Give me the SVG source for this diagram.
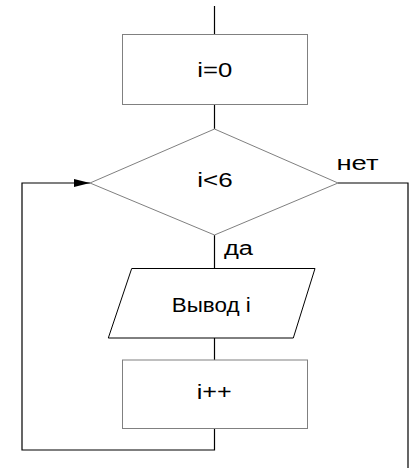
<svg xmlns="http://www.w3.org/2000/svg" width="411" height="468" viewBox="0 0 411 468">
<style>
.box{fill:#fff;stroke:#808080;stroke-width:1}
.io{fill:#fff;stroke:#000;stroke-width:1}
.ln{fill:none;stroke:#000;stroke-width:1.2}
.t{font-family:"Liberation Sans",Arial,sans-serif;font-size:20px;fill:#000}
</style>
<defs>
<marker id="arr" markerWidth="16" markerHeight="9" refX="16" refY="4.5" orient="auto" markerUnits="userSpaceOnUse">
<path d="M0,0.5 L16,4.5 L0,8.5 Z" fill="#000"/>
</marker>
</defs>
<rect width="411" height="468" fill="#fff"/>
<g id="connectors">
<line class="ln" x1="214.5" y1="6" x2="214.5" y2="34"/>
<line class="ln" x1="214.5" y1="104" x2="214.5" y2="129"/>
<line class="ln" x1="214.5" y1="235" x2="214.5" y2="268"/>
<line class="ln" x1="214.5" y1="338" x2="214.5" y2="360"/>
<polyline class="ln" points="214.5,428 214.5,450 22,450 22,183 90,183" marker-end="url(#arr)"/>
<polyline class="ln" points="338,183 408,183 408,468"/>
<text class="t" x="336.5" y="170" textLength="42" lengthAdjust="spacingAndGlyphs">нет</text>
<text class="t" x="224" y="254.5" textLength="29" lengthAdjust="spacingAndGlyphs">да</text>
</g>
<g id="init">
<rect class="box" x="122.5" y="34.5" width="185" height="70"/>
<text class="t" x="197.3" y="77" textLength="35" lengthAdjust="spacingAndGlyphs">i=0</text>
</g>
<g id="cond">
<polygon class="box" points="214.5,129 338,183 214.5,235 90,183"/>
<text class="t" x="197.3" y="187" textLength="35.4" lengthAdjust="spacingAndGlyphs">i&lt;6</text>
</g>
<g id="output">
<polygon class="io" points="131.7,268.5 315,268.5 293.3,338 108.3,338"/>
<text class="t" x="171.7" y="311.7" textLength="79" lengthAdjust="spacingAndGlyphs">Вывод i</text>
</g>
<g id="incr">
<rect class="box" x="122.5" y="360" width="185" height="68.5"/>
<text class="t" x="196.7" y="399" textLength="35" lengthAdjust="spacingAndGlyphs">i++</text>
</g>
</svg>
